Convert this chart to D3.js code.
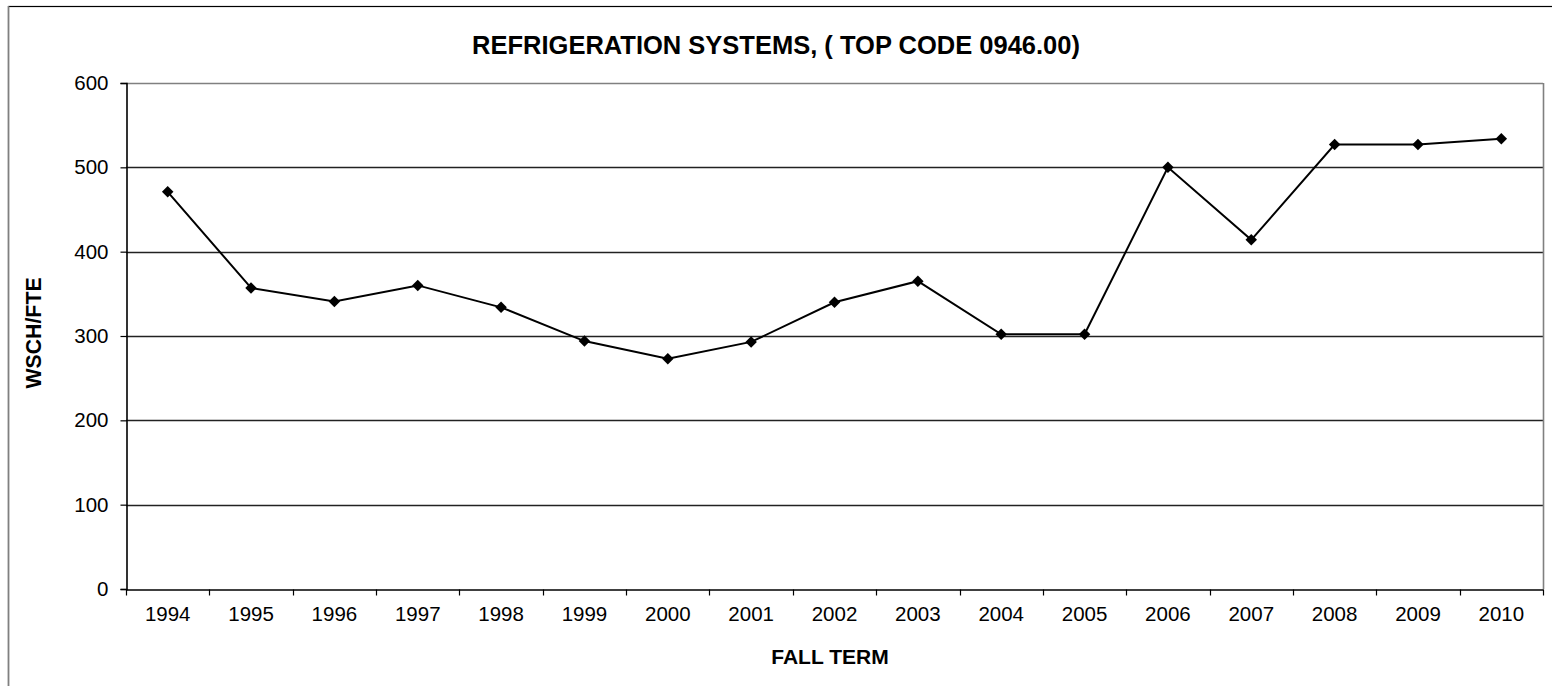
<!DOCTYPE html>
<html>
<head>
<meta charset="utf-8">
<script src="https://cdn.jsdelivr.net/npm/d3@7/dist/d3.min.js"></script>
<style>
  html, body { margin: 0; padding: 0; background: #fff; }
  svg { display: block; font-family: "Liberation Sans", Arial, sans-serif; }
</style>
</head>
<body>
<svg id="chart" width="1552" height="686"></svg>
<script>
const years = ["1994","1995","1996","1997","1998","1999","2000","2001","2002","2003","2004","2005","2006","2007","2008","2009","2010"];
const wschFte = [471, 357, 341, 360, 334, 294, 273, 293, 340, 365, 302, 302, 500, 414, 527, 527, 534];
const yTicks = [0, 100, 200, 300, 400, 500, 600];
const titleText = "REFRIGERATION SYSTEMS, ( TOP CODE 0946.00)";
const yTitle = "WSCH/FTE";
const xTitle = "FALL TERM";

const svg = d3.select("#chart");
const W = 1552, H = 686;
const plot = { left: 126, right: 1543, top: 83, bottom: 589 };

// outer chart border
svg.append("rect").attr("x", 8.5).attr("y", 6.5).attr("width", W + 10).attr("height", H + 10)
  .attr("fill", "#fff").attr("stroke", "#000").attr("stroke-width", 1.2);
svg.append("line").attr("x1", 8.5).attr("x2", 8.5).attr("y1", 6).attr("y2", H)
  .attr("stroke", "#808080").attr("stroke-width", 1.5);

const x = d3.scaleBand().domain(years).range([plot.left, plot.right]).padding(0);
const y = d3.scaleLinear().domain([0, 600]).range([plot.bottom, plot.top]);

// gridlines
svg.append("g").selectAll("line").data(yTicks.filter(v => v > 0)).join("line")
  .attr("x1", plot.left).attr("x2", plot.right)
  .attr("y1", d => Math.round(y(d)) + 0.5).attr("y2", d => Math.round(y(d)) + 0.5)
  .attr("stroke", d => (d === 600 ? "#808080" : "#222")).attr("stroke-width", 1.4);

// right border of plot
svg.append("line").attr("x1", plot.right + 0.5).attr("x2", plot.right + 0.5)
  .attr("y1", plot.top).attr("y2", plot.bottom).attr("stroke", "#808080").attr("stroke-width", 1.6);

// y axis
const yAxis = d3.axisLeft(y).tickValues(yTicks).tickSize(6).tickPadding(12).tickFormat(d3.format("d"));
const gy = svg.append("g").attr("transform", `translate(${plot.left + 0.5},0)`).call(yAxis);
gy.select(".domain").attr("stroke", "#000").attr("stroke-width", 1.6);
gy.selectAll(".tick line").attr("stroke", "#000").attr("stroke-width", 1.2);
gy.selectAll(".tick text").attr("font-size", 20.5).attr("fill", "#000")
  .attr("font-family", "Liberation Sans, Arial, sans-serif");

// x axis with ticks at band boundaries
const xAxis = d3.axisBottom(x).tickSize(0).tickPadding(17);
const gx = svg.append("g").attr("transform", `translate(0,${plot.bottom + 0.5})`).call(xAxis);
gx.select(".domain").attr("stroke", "#000").attr("stroke-width", 1.6);
gx.selectAll(".tick text").attr("font-size", 20.5).attr("fill", "#000")
  .attr("font-family", "Liberation Sans, Arial, sans-serif");
const boundaries = years.map(d => x(d)).concat([x(years[years.length - 1]) + x.bandwidth()]);
gx.append("g").selectAll("line").data(boundaries).join("line")
  .attr("x1", d => Math.round(d) + 0.5).attr("x2", d => Math.round(d) + 0.5)
  .attr("y1", 0).attr("y2", 6).attr("stroke", "#000").attr("stroke-width", 1.2);

// line
const line = d3.line().x((d, i) => x(years[i]) + x.bandwidth() / 2).y(d => y(d));
svg.append("path").datum(wschFte).attr("d", line)
  .attr("fill", "none").attr("stroke", "#000").attr("stroke-width", 2);

// markers
const sym = d3.symbol().type(d3.symbolSquare).size(66);
svg.append("g").selectAll("path").data(wschFte).join("path")
  .attr("d", sym)
  .attr("transform", (d, i) => `translate(${x(years[i]) + x.bandwidth() / 2},${y(d)}) rotate(45)`)
  .attr("fill", "#000");

// titles
svg.append("text").attr("x", 776).attr("y", 54).attr("text-anchor", "middle")
  .attr("font-size", 25.5).attr("font-weight", "bold").text(titleText);
svg.append("text").attr("transform", "translate(40.5,333) rotate(-90)").attr("text-anchor", "middle")
  .attr("font-size", 21.3).attr("font-weight", "bold").text(yTitle);
svg.append("text").attr("x", 830).attr("y", 664).attr("text-anchor", "middle")
  .attr("font-size", 21).attr("font-weight", "bold").text(xTitle);
</script>
</body>
</html>
